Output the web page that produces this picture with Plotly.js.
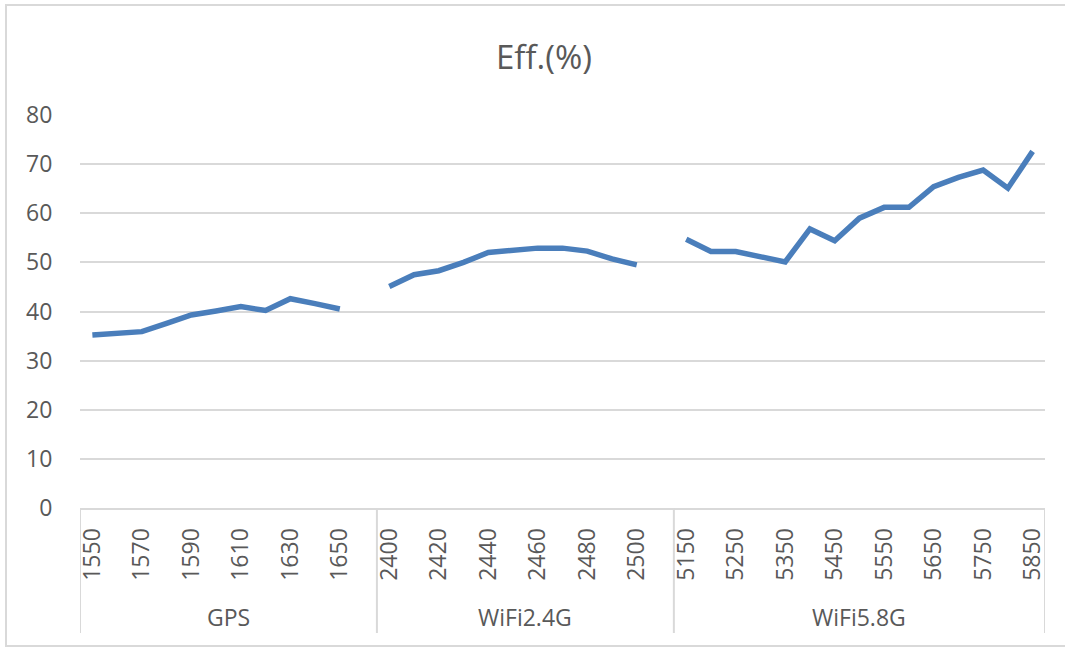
<!DOCTYPE html>
<html>
<head>
<meta charset="utf-8">
<script src="https://cdn.plot.ly/plotly-3.0.1.min.js"></script>
<style>
  html, body { margin: 0; padding: 0; background: #ffffff; }
  #chart { width: 1065px; height: 648px; }
</style>
</head>
<body>
<div id="chart"></div>
<script>
// ---- data ----
const groupNames = ['GPS', 'WiFi2.4G', 'WiFi5.8G'];

const gpsFreq = ['1550','1560','1570','1580','1590','1600','1610','1620','1630','1640','1650'];
const gpsEff  = [35.2, 35.5, 35.9, 37.6, 39.3, 40.1, 41.0, 40.2, 42.6, 41.6, 40.5];

const wifi24Freq = ['2400','2410','2420','2430','2440','2450','2460','2470','2480','2490','2500'];
const wifi24Eff  = [45.1, 47.5, 48.3, 50.0, 52.0, 52.4, 52.9, 52.9, 52.3, 50.7, 49.5];

const wifi58Freq = ['5150','5200','5250','5300','5350','5400','5450','5500','5550','5600','5650','5700','5750','5800','5850'];
const wifi58Eff  = [54.7, 52.2, 52.2, 51.1, 50.1, 56.8, 54.4, 59.0, 61.2, 61.2, 65.4, 67.3, 68.8, 65.1, 72.6];

const gpsTicks    = ['1550','1570','1590','1610','1630','1650'];
const wifi24Ticks = ['2400','2420','2440','2460','2480','2500'];
const wifi58Ticks = ['5150','5250','5350','5450','5550','5650','5750','5850'];

const yTicks = [0, 10, 20, 30, 40, 50, 60, 70, 80];

// ---- build category axis (one blank slot after each group except the last) ----
const groupFreqs = [gpsFreq, wifi24Freq, wifi58Freq];
const groupEffs  = [gpsEff, wifi24Eff, wifi58Eff];
const cats = [], vals = [];
const groupSpans = [];
groupFreqs.forEach((f, gi) => {
  const start = cats.length;
  f.forEach((c, i) => { cats.push(c); vals.push(groupEffs[gi][i]); });
  if (gi < groupFreqs.length - 1) {
    cats.push(' '.repeat(gi + 1));
    vals.push(null);
  }
  groupSpans.push([start - 0.5, cats.length - 0.5]);
});
const tickVals = gpsTicks.concat(wifi24Ticks, wifi58Ticks);

const grey = '#595959';
const lineGrey = '#d9d9d9';
const fontFam = '"Open Sans", "Noto Sans", sans-serif';

const yPix = (py) => (508 - py) / 393; // helper for paper coordinates below axis

const shapes = [];
// group dividers
const dividerX = [groupSpans[0][0]].concat(groupSpans.map(s => s[1]));
dividerX.forEach(x => {
  shapes.push({type: 'line', xref: 'x', yref: 'paper', x0: x, x1: x, y0: 0, y1: yPix(633),
    line: {color: lineGrey, width: 2}});
});
// outer chart border
shapes.push({type: 'rect', xref: 'paper', yref: 'paper',
  x0: (6 - 80) / 965, x1: (1075 - 80) / 965, y0: yPix(646), y1: yPix(5),
  line: {color: lineGrey, width: 2}, fillcolor: 'rgba(0,0,0,0)'});

const annotations = groupNames.map((g, i) => ({
  text: g, xref: 'x', yref: 'paper',
  x: (groupSpans[i][0] + groupSpans[i][1]) / 2, y: yPix(617),
  xanchor: 'center', yanchor: 'middle', showarrow: false,
  font: {family: fontFam, size: 23, color: grey}
}));

const trace = {
  type: 'scatter', mode: 'lines',
  x: cats, y: vals, connectgaps: false,
  line: {color: '#4a7ebb', width: 5.5},
  hoverinfo: 'skip'
};

const layout = {
  width: 1065, height: 648,
  margin: {l: 80, r: 20, t: 115, b: 140},
  paper_bgcolor: '#ffffff', plot_bgcolor: '#ffffff',
  showlegend: false,
  font: {family: fontFam, color: grey},
  title: {
    text: 'Eff.(%)', xref: 'container', yref: 'container',
    x: 544 / 1065, y: 1 - 57 / 648, xanchor: 'center', yanchor: 'middle',
    font: {family: fontFam, size: 33, color: grey}
  },
  xaxis: {
    type: 'category', categoryorder: 'array', categoryarray: cats,
    range: [-0.5, cats.length - 0.5],
    tickmode: 'array', tickvals: tickVals, ticktext: tickVals,
    tickangle: -90, ticks: 'outside', ticklen: 9, tickcolor: 'rgba(0,0,0,0)',
    tickfont: {family: fontFam, size: 23, color: grey},
    showgrid: false, zeroline: false,
    showline: true, linecolor: lineGrey, linewidth: 2
  },
  yaxis: {
    range: [0, 80], tickmode: 'array', tickvals: yTicks,
    ticks: 'outside', ticklen: 22, tickcolor: 'rgba(0,0,0,0)',
    tickfont: {family: fontFam, size: 23, color: grey},
    showgrid: true, gridcolor: lineGrey, gridwidth: 2,
    zeroline: false, showline: false
  },
  shapes: shapes,
  annotations: annotations
};

Plotly.newPlot('chart', [trace], layout, {displayModeBar: false, staticPlot: true});
</script>
</body>
</html>
